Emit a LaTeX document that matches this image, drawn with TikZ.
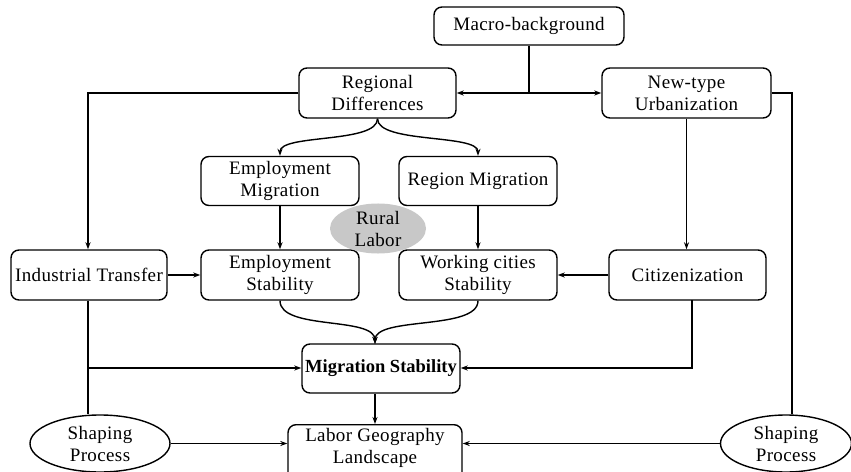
\documentclass[tikz,border=0pt]{standalone}
\usepackage{fontspec}
\setmainfont{Liberation Serif}[LetterSpace=2]
\newfontfamily\boldlab{Liberation Serif}[LetterSpace=0]
\usetikzlibrary{arrows.meta,shapes.geometric}
\begin{document}
\begin{tikzpicture}[x=1pt,y=-1pt,
  every node/.style={font=\fontsize{19}{22}\selectfont, align=center, inner sep=0pt},
  box/.style={draw, line width=1.4pt, rounded corners=8pt},
  oval/.style={draw, line width=1.4pt, ellipse},
  conn/.style={line width=1.4pt},
  arr/.style={conn, -{Stealth[length=7pt,width=5pt]}}]
\useasboundingbox (0,0) rectangle (851,471);
% boxes
\node[box, minimum width=190pt, minimum height=38pt] (macro) at (529,26) {Macro-background};
\node[box, minimum width=157pt, minimum height=50pt] (reg) at (377.5,93) {Regional\\Differences};
\node[box, minimum width=169pt, minimum height=50pt] (urb) at (686.5,93) {New-type\\Urbanization};
\node[box, minimum width=158pt, minimum height=49pt] (emig) at (280,181) {Employment\\Migration};
\node[box, minimum width=158pt, minimum height=49pt] (rmig) at (478,181) {Region Migration};
\node[box, minimum width=156pt, minimum height=50pt] (ind) at (89,275) {Industrial Transfer};
\node[box, minimum width=158pt, minimum height=50pt] (estab) at (280,275) {Employment\\Stability};
\node[box, minimum width=158pt, minimum height=50pt] (wstab) at (478,275) {Working cities\\Stability};
\node[box, minimum width=157pt, minimum height=50pt] (cit) at (687.5,275) {Citizenization};
\node[box, minimum width=158pt, minimum height=49pt, font=\boldlab\fontsize{18.5}{22}\selectfont\bfseries] (mstab) at (381,368.5) {Migration Stability};
\node[box, minimum width=174pt, minimum height=56pt, anchor=north] (lgl) at (375,424) {};
\node at (375,448) {Labor Geography\\Landscape};
\node[oval, minimum width=140pt, minimum height=57pt] (spl) at (100,443.5) {Shaping\\Process};
\node[oval, minimum width=131pt, minimum height=57pt] (spr) at (786,443.5) {Shaping\\Process};
\node[ellipse, fill={rgb,255:red,200;green,200;blue,200}, minimum width=96pt, minimum height=48pt] (rural) at (378,228.5) {Rural\\Labor};
% coordinates
\coordinate (mj) at (529,93);
\coordinate (lc) at (88,93);
\coordinate (rc) at (792,93);
\coordinate (mtop) at (375,344);
\coordinate (lbr) at (88,368);
\coordinate (cb) at (692,300);
\coordinate (cbr) at (692,368);
% connectors
\draw[conn] (macro.south) -- (mj);
\draw[arr] (mj) -- (reg.east);
\draw[arr] (mj) -- (urb.west);
\draw[arr] (reg.west) -- (lc) -- (ind.north -| lc);
\draw[conn] (urb.east) -- (rc) -- (spr.north -| rc);
\draw[arr] (reg.south) .. controls +(0,25) and +(0,-22) .. (emig.north);
\draw[arr] (reg.south) .. controls +(0,25) and +(0,-22) .. (rmig.north);
\draw[arr] (emig.south) -- (estab.north);
\draw[arr] (rmig.south) -- (wstab.north);
\draw[arr] (urb.south) -- (cit.north -| urb.south);
\draw[arr] (ind.east) -- (estab.west);
\draw[arr] (cit.west) -- (wstab.east);
\draw[arr] (estab.south) .. controls +(0,30) and +(0,-28) .. (mtop);
\draw[arr] (wstab.south) .. controls +(0,30) and +(0,-28) .. (mtop);
\draw[conn] (ind.south -| lc) -- (spl.north -| lc);
\draw[arr] (lbr) -- (mstab.west |- lbr);
\draw[arr] (cb) -- (cbr) -- (mstab.east |- cbr);
\draw[arr] (mstab.south -| mtop) -- (lgl.north);
\draw[arr] (spl.east) -- (lgl.west |- spl.east);
\draw[arr] (spr.west) -- (lgl.east |- spr.west);
\end{tikzpicture}
\end{document}
